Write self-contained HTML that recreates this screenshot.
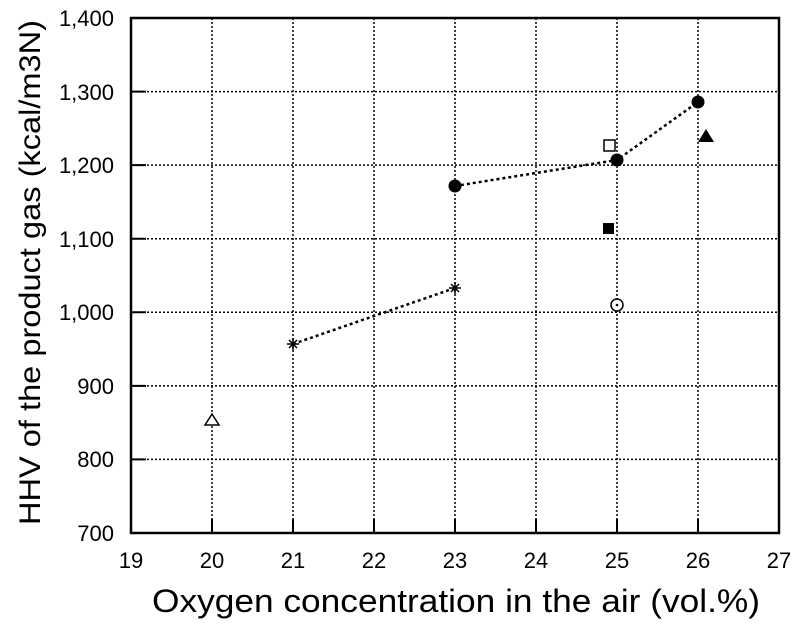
<!DOCTYPE html><html><head><style>body{margin:0;background:#fff}</style></head><body>
<svg width="800" height="633" xmlns="http://www.w3.org/2000/svg" font-family="Liberation Sans, sans-serif">
<g stroke="#000" stroke-width="1.5" stroke-dasharray="2,2">
<line x1="212" y1="18" x2="212" y2="533"/><line x1="293" y1="18" x2="293" y2="533"/><line x1="374" y1="18" x2="374" y2="533"/><line x1="455" y1="18" x2="455" y2="533"/><line x1="536" y1="18" x2="536" y2="533"/><line x1="617" y1="18" x2="617" y2="533"/><line x1="698" y1="18" x2="698" y2="533"/>
<line x1="131" y1="91.6" x2="779" y2="91.6"/><line x1="131" y1="165.1" x2="779" y2="165.1"/><line x1="131" y1="238.7" x2="779" y2="238.7"/><line x1="131" y1="312.3" x2="779" y2="312.3"/><line x1="131" y1="385.9" x2="779" y2="385.9"/><line x1="131" y1="459.4" x2="779" y2="459.4"/>
</g>
<g stroke="#000" stroke-width="2">
<path d="M131,91.6h15M131,165.1h15M131,238.7h15M131,312.3h15M131,385.9h15M131,459.4h15"/>
<path d="M212,533v-14M293,533v-14M374,533v-14M455,533v-14M536,533v-14M617,533v-14M698,533v-14"/></g>
<rect x="131" y="18" width="648" height="515" fill="none" stroke="#000" stroke-width="2.5"/>
<g font-size="22" text-anchor="end">
<text x="114" y="26">1,400</text><text x="114" y="100">1,300</text><text x="114" y="173">1,200</text><text x="114" y="247">1,100</text><text x="114" y="320">1,000</text><text x="114" y="394">900</text><text x="114" y="467">800</text><text x="114" y="541">700</text></g>
<g font-size="22" text-anchor="middle">
<text x="131" y="568">19</text><text x="212" y="568">20</text><text x="293" y="568">21</text><text x="374" y="568">22</text><text x="455" y="568">23</text><text x="536" y="568">24</text><text x="617" y="568">25</text><text x="698" y="568">26</text><text x="779" y="568">27</text></g>
<text x="152" y="612" font-size="32" textLength="608" lengthAdjust="spacingAndGlyphs">Oxygen concentration in the air (vol.%)</text>
<text transform="translate(40,525) rotate(-90)" font-size="30" textLength="505" lengthAdjust="spacingAndGlyphs">HHV of the product gas (kcal/m3N)</text>
<g stroke="#000" stroke-width="2.5" stroke-dasharray="3,3" fill="none">
<polyline points="455,186 617,160 698,102"/><polyline points="293,344 455,288"/></g>
<g fill="#000"><circle cx="455" cy="186" r="6.5"/><circle cx="617" cy="160" r="6.5"/><circle cx="698" cy="102" r="6.5"/>
<rect x="603" y="223" width="11" height="11"/><polygon points="706,129 698,142 714,142"/></g>
<rect x="604" y="140" width="11" height="11" fill="#fff" stroke="#000" stroke-width="1.5"/>
<circle cx="617" cy="305" r="6" fill="#fff" stroke="#000" stroke-width="1.5"/><circle cx="617" cy="305" r="1.3"/>
<polygon points="212,414 205,425 219,425" fill="#fff" stroke="#000" stroke-width="1.5"/>
<g stroke="#000" stroke-width="1.5"><path d="M287,344h12M293,338v12M289,340l8,8M297,340l-8,8"/><path d="M449,288h12M455,282v12M451,284l8,8M459,284l-8,8"/></g>
</svg></body></html>
